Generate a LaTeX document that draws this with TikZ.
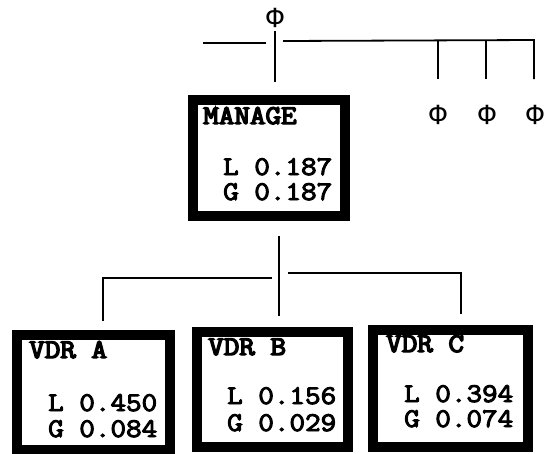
\documentclass[tikz,border=0pt]{standalone}
\usepackage{fontspec}
\newfontfamily\phifont{Liberation Mono}
\newfontfamily\numfont[FakeBold=3.5]{Latin Modern Mono}
\newfontfamily\titlefont[FakeBold=5]{Latin Modern Mono}
\newcommand{\wtxt}[1]{\scalebox{1.12}[1]{#1}}
\begin{document}
\begin{tikzpicture}[x=1pt,y=-1pt,
  box/.style={draw=black, line width=10pt, rectangle, inner sep=0pt, outer sep=0pt},
  lbl/.style={anchor=base west, inner sep=0pt, font=\titlefont\fontsize{27}{27}\selectfont},
  num/.style={anchor=base west, inner sep=0pt, font=\numfont\fontsize{27}{27}\selectfont},
  phisym/.style={inner sep=0pt, font=\phifont\fontsize{29}{29}\selectfont},
  conn/.style={line width=1.8pt, draw=black}]
\useasboundingbox (0,0) rectangle (545,453);

% top symbols
\node[phisym] (phi0) at (275,18) {Φ};
\node[phisym] (phi1) at (438,115) {Φ};
\node[phisym] (phi2) at (487,115) {Φ};
\node[phisym] (phi3) at (535,115) {Φ};

% boxes
\node[box, minimum width=152pt, minimum height=116pt] (manage) at (269,158) {};
\node[box, minimum width=153pt, minimum height=115pt] (vdra) at (93.5,392.5) {};
\node[box, minimum width=151pt, minimum height=115pt] (vdrb) at (272.5,389.5) {};
\node[box, minimum width=155pt, minimum height=117pt] (vdrc) at (450.5,388.5) {};

% texts
\node[lbl] (manT) at (203,124) {\wtxt{MANAGE}};
\node[num] (manL) at (223,175) {\wtxt{L 0.187}};
\node[num] (manG) at (223,200) {\wtxt{G 0.187}};
\node[lbl] (aT) at (29,358) {\wtxt{VDR A}};
\node[num] (aL) at (48,411) {\wtxt{L 0.450}};
\node[num] (aG) at (48,437) {\wtxt{G 0.084}};
\node[lbl] (bT) at (208,355) {\wtxt{VDR B}};
\node[num] (bL) at (227,404) {\wtxt{L 0.156}};
\node[num] (bG) at (227,431) {\wtxt{G 0.029}};
\node[lbl] (cT) at (386,352) {\wtxt{VDR C}};
\node[num] (cL) at (404,402) {\wtxt{L 0.394}};
\node[num] (cG) at (404,427) {\wtxt{G 0.074}};

% connector coordinates (top)
\coordinate (tl0) at (203,43);
\coordinate (tl1) at (266,43);
\coordinate (tv0) at (275,31);
\coordinate (tv1) at (275,82);
\coordinate (tr0) at (283,41);
\coordinate (tr1) at (534,40);
\coordinate (d1a) at (438,40.5);
\coordinate (d1b) at (438,79);
\coordinate (d2a) at (486,40.2);
\coordinate (d2b) at (486,79);
\coordinate (d3b) at (534,79);

\draw[conn] (tl0) -- (tl1);
\draw[conn] (tv0) -- (tv1);
\draw[conn] (tr0) -- (tr1) -- (d3b);
\draw[conn] (d1a) -- (d1b);
\draw[conn] (d2a) -- (d2b);

% connector coordinates (bottom)
\coordinate (bv0) at (279,236);
\coordinate (bv1) at (279,316);
\coordinate (bl0) at (272,278);
\coordinate (bl1) at (103,278);
\coordinate (bl2) at (103,321);
\coordinate (br0) at (288,273);
\coordinate (br1) at (461,273);
\coordinate (br2) at (461,314);

\draw[conn] (bv0) -- (bv1);
\draw[conn] (bl0) -- (bl1) -- (bl2);
\draw[conn] (br0) -- (br1) -- (br2);
\end{tikzpicture}
\end{document}
